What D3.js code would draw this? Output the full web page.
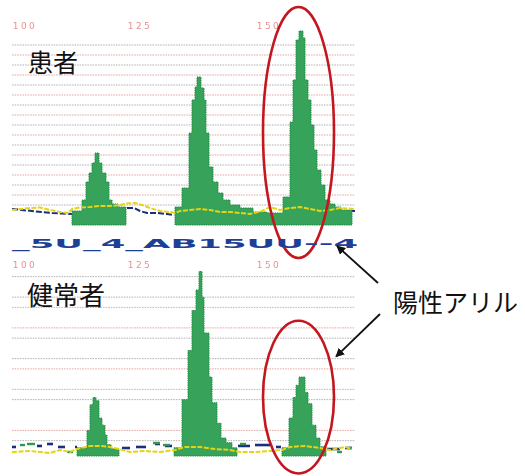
<!DOCTYPE html>
<html>
<head>
<meta charset="utf-8">
<script src="https://cdn.jsdelivr.net/npm/d3@7"></script>
<style>
  html, body { margin: 0; padding: 0; background: #fff; }
  svg { display: block; }
</style>
</head>
<body>
<svg id="chart" width="525" height="476"></svg>
<script>
// ---- data: two electropherogram traces (scan index, RFU) ----
const panelNames = ["患者", "健常者"];
const calloutText = "陽性アリル";
const runName = "_5U_4_AB15UU--4";

const sizeLabels = ["100", "125", "150"];
const sizeLabelScans = [13, 128, 257];

// step profiles of the green (blue-dye) peaks
const patientPeaks = [
  [[60,140],[70,250],[74,430],[77,520],[80,620],[83,720],[87,620],[90,520],[94,430],[97,250],[100,210],[106,180],[114,0]],
  [[163,180],[170,370],[177,920],[180,1250],[183,1380],[185,1480],[189,1370],[192,1250],[194,920],[197,580],[201,430],
   [206,320],[211,250],[218,200],[228,170],[241,130],[255,120],[271,280],[278,1030],[281,1450],[284,1850],[287,1940],
   [291,1870],[293,1450],[296,1250],[299,1000],[302,750],[305,550],[309,400],[313,250],[318,210],[323,180],[329,150],[340,0]]
];
const controlPeaks = [
  [[65,80],[75,250],[78,500],[81,570],[84,540],[87,370],[90,300],[93,205],[95,110],[99,70],[107,0]],
  [[162,80],[170,550],[176,1030],[180,1420],[184,1620],[187,1800],[190,1550],[192,1200],[197,770],[200,520],[205,320],
   [209,175],[214,130],[220,80],[225,0]],
  [[270,80],[277,370],[281,570],[284,690],[287,770],[293,620],[296,510],[300,300],[304,175],[308,90],[314,0]]
];

// baseline traces of the other dyes
const patientYellow = [[0,150],[8,160],[18,170],[28,175],[38,150],[48,130],[56,120],[60,160],[68,175],[78,180],[88,190],
  [98,190],[108,200],[115,215],[123,220],[130,200],[138,170],[148,140],[158,130],[163,120],[168,140],[178,150],[188,160],
  [198,150],[208,130],[218,130],[228,120],[238,110],[250,140],[258,180],[268,150],[278,170],[288,180],[298,160],[308,140],
  [318,150],[328,170],[343,160]];
const patientBlue = [
  [[0,160],[10,150],[20,140],[30,130],[40,120],[50,115],[60,110]],
  [[115,170],[122,170],[128,140],[135,120],[145,120],[155,110],[162,100]],
  [[232,120],[245,110],[255,120]],
  [[340,140],[343,140]]
];
const controlYellow = [[0,39],[18,49],[38,29],[48,59],[58,39],[65,68],[78,98],[88,98],[98,88],[107,68],[118,39],[133,49],
  [148,39],[163,59],[173,88],[188,88],[203,68],[218,59],[228,39],[243,39],[258,49],[270,59],[278,88],[293,98],[308,78],
  [318,59],[333,88],[340,68]];
// short dashes: [scan start, scan end, RFU]
const controlBlue = [[0,4,88],[25,30,98],[35,41,117],[46,53,88],[63,65,88],[110,118,78],[124,134,88],[143,148,117],
  [153,160,98],[226,238,98],[243,258,107],[264,269,88],[315,328,68],[333,340,78]];
const controlGreen = [[8,13,107],[15,23,117],[55,61,39],[141,148,127],[151,158,107],[228,234,117],[325,330,39],[336,340,78]];

// grid rules (RFU)
const patientGrey = [200,400,600,800,1000,1200,1400,1600,1800];
const patientRed = [300,500,700,900,1100,1300,1500,1700];
const controlGrey = [150,550,950,1150,1550,1750];
const controlRed = [250,650,850,1250,1450];

// highlighted allele window (scan range) and vertical extent per panel (RFU)
const alleleScans = [251, 322];
const patientHighlight = [-330, 2180];
const controlHighlight = [-170, 1320];

// ---- drawing ----
const svg = d3.select("#chart");
const defs = svg.append("defs");
defs.append("filter").attr("id", "soft")
  .append("feGaussianBlur").attr("stdDeviation", 0.45);
defs.append("marker").attr("id", "head")
  .attr("viewBox", "0 0 10 10").attr("refX", 9).attr("refY", 5)
  .attr("markerWidth", 9).attr("markerHeight", 9).attr("markerUnits", "userSpaceOnUse")
  .attr("orient", "auto")
  .append("path").attr("d", "M0,0 L10,5 L0,10 Z").attr("fill", "#111");

const x = d3.scaleLinear().domain([0, 343]).range([12, 355]);

const panels = [
  { name: panelNames[0], y: d3.scaleLinear().domain([0, 1800]).range([225, 45]),
    peaks: patientPeaks, grey: patientGrey, red: patientRed, labelY: 26,
    nameX: 28, nameY: 72, nameSize: 25, highlight: patientHighlight },
  { name: panelNames[1], y: d3.scaleLinear().domain([0, 1800]).range([456, 271.5]),
    peaks: controlPeaks, grey: controlGrey, red: controlRed, labelY: 265,
    nameX: 27, nameY: 305, nameSize: 26, highlight: controlHighlight }
];

const greenFill = "#37a25a", greenEdge = "#1f8d45";
const navy = "#1b2f7c", yellow = "#e5d414";

panels.forEach((p, i) => {
  const g = svg.append("g");

  // dotted grid rules
  const rules = g.append("g");
  rules.selectAll("line.gr").data(p.grey).join("line")
    .attr("x1", x(0)).attr("x2", x(343)).attr("y1", d => p.y(d)).attr("y2", d => p.y(d))
    .attr("stroke", "#8f8f8f").attr("stroke-opacity", 0.75).attr("stroke-width", 0.9)
    .attr("stroke-dasharray", "1.6,1");
  rules.selectAll("line.rd").data(p.red).join("line")
    .attr("x1", x(0)).attr("x2", x(343)).attr("y1", d => p.y(d)).attr("y2", d => p.y(d))
    .attr("stroke", "#e08585").attr("stroke-opacity", 0.8).attr("stroke-width", 0.9)
    .attr("stroke-dasharray", "1.6,1");

  // size labels
  g.append("g").attr("filter", "url(#soft)")
    .selectAll("text").data(sizeLabels).join("text")
    .attr("x", (d, k) => x(sizeLabelScans[k])).attr("y", p.labelY + 3)
    .attr("text-anchor", "middle")
    .attr("font-family", "DejaVu Sans, sans-serif").attr("font-size", 9)
    .attr("letter-spacing", 2.5)
    .attr("fill", "#e27575").attr("fill-opacity", 0.8)
    .text(d => d);

  // navy trace (under peaks)
  if (i === 0) {
    const line = d3.line().x(d => x(d[0])).y(d => p.y(d[1]));
    g.selectAll("path.nv").data(patientBlue).join("path")
      .attr("d", line).attr("fill", "none").attr("stroke", navy)
      .attr("stroke-width", 2).attr("stroke-dasharray", "6,2");
  } else {
    g.selectAll("line.nv").data(controlBlue).join("line")
      .attr("x1", d => x(d[0])).attr("x2", d => x(d[1]))
      .attr("y1", d => p.y(d[2])).attr("y2", d => p.y(d[2]))
      .attr("stroke", navy).attr("stroke-width", 2.6);
    g.selectAll("line.gn").data(controlGreen).join("line")
      .attr("x1", d => x(d[0])).attr("x2", d => x(d[1]))
      .attr("y1", d => p.y(d[2])).attr("y2", d => p.y(d[2]))
      .attr("stroke", "#2e9a4e").attr("stroke-width", 2.4);
  }

  // green step peaks
  const area = d3.area().curve(d3.curveStepAfter)
    .x(d => x(d[0])).y0(p.y(0)).y1(d => p.y(d[1]));
  g.selectAll("path.pk").data(p.peaks).join("path")
    .attr("d", area).attr("fill", greenFill)
    .attr("stroke", greenEdge).attr("stroke-width", 1).attr("stroke-dasharray", "1.5,0.8");

  // yellow trace (over peaks)
  const yl = d3.line().curve(d3.curveLinear).x(d => x(d[0])).y(d => p.y(d[1]));
  g.append("path").datum(i === 0 ? patientYellow : controlYellow)
    .attr("d", yl).attr("fill", "none").attr("stroke", yellow)
    .attr("stroke-width", 2).attr("stroke-dasharray", "5,1.5");

  // panel title
  g.append("text").attr("x", p.nameX).attr("y", p.nameY)
    .attr("font-family", "Noto Sans CJK JP, sans-serif").attr("font-size", p.nameSize)
    .attr("fill", "#111").text(p.name);

  // highlight ellipse around the allele peak
  const x0 = x(alleleScans[0]), x1 = x(alleleScans[1]);
  const y0 = p.y(p.highlight[1]), y1 = p.y(p.highlight[0]);
  p.ellipse = { cx: (x0 + x1) / 2, cy: (y0 + y1) / 2, rx: (x1 - x0) / 2, ry: (y1 - y0) / 2 };
  p.ellipseNode = g.append("ellipse")
    .attr("cx", p.ellipse.cx).attr("cy", p.ellipse.cy)
    .attr("rx", p.ellipse.rx).attr("ry", p.ellipse.ry)
    .attr("fill", "none").attr("stroke", "#c3161f").attr("stroke-width", 2.6);
});

// run name strip between the two traces
svg.append("text").attr("x", 12).attr("y", 248)
  .attr("font-family", "DejaVu Sans, sans-serif").attr("font-weight", "bold").attr("font-size", 13)
  .attr("textLength", 346).attr("lengthAdjust", "spacingAndGlyphs")
  .attr("fill", "#1d3f96").text(runName);

// callout label and arrows
const callX = 393, callY = 312;
svg.append("text").attr("x", callX).attr("y", callY)
  .attr("font-family", "Noto Sans CJK JP, sans-serif").attr("font-size", 25)
  .attr("fill", "#111").text(calloutText);

const e0 = panels[0].ellipse, e1 = panels[1].ellipse;
const arrows = [
  { from: [callX - 15, callY - 29], to: [e0.cx + e0.rx + 3, e0.cy + e0.ry - 12] },
  { from: [callX - 13, callY + 2], to: [e1.cx + e1.rx + 2, e1.cy - e1.ry + 36] }
];
svg.selectAll("line.arrow").data(arrows).join("line")
  .attr("x1", d => d.from[0]).attr("y1", d => d.from[1])
  .attr("x2", d => d.to[0]).attr("y2", d => d.to[1])
  .attr("stroke", "#111").attr("stroke-width", 1.8)
  .attr("marker-end", "url(#head)");
</script>
</body>
</html>
